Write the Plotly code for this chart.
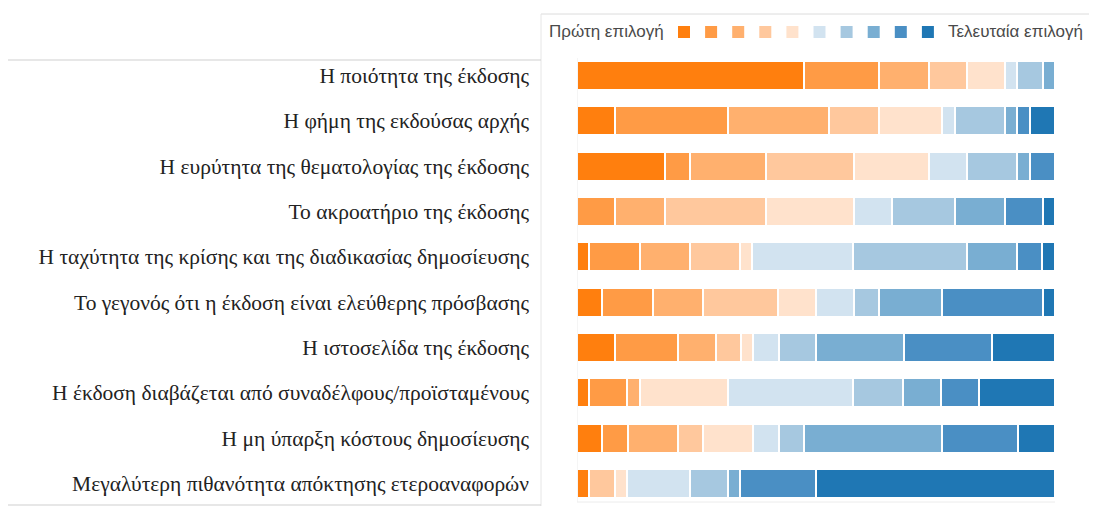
import plotly.graph_objects as go

categories = [
    "Η ποιότητα της έκδοσης",
    "Η φήμη της εκδούσας αρχής",
    "Η ευρύτητα της θεματολογίας της έκδοσης",
    "Το ακροατήριο της έκδοσης",
    "Η ταχύτητα της κρίσης και της διαδικασίας δημοσίευσης",
    "Το γεγονός ότι η έκδοση είναι ελεύθερης πρόσβασης",
    "Η ιστοσελίδα της έκδοσης",
    "Η έκδοση διαβάζεται από συναδέλφους/προϊσταμένους",
    "Η μη ύπαρξη κόστους δημοσίευσης",
    "Μεγαλύτερη πιθανότητα απόκτησης ετεροαναφορών",
]

# percentage of respondents choosing each rank (1 = first choice ... 10 = last choice), per category
rank1 = [47.4, 7.9, 18.4, 0.0, 2.6, 5.3, 7.9, 2.6, 5.3, 2.6]
rank2 = [15.8, 23.7, 5.3, 7.9, 10.5, 10.5, 13.2, 7.9, 5.3, 0.0]
rank3 = [10.5, 21.1, 15.8, 10.5, 10.5, 10.5, 7.9, 2.6, 10.5, 0.0]
rank4 = [7.9, 10.5, 18.4, 21.1, 10.5, 15.8, 5.3, 0.0, 5.3, 5.3]
rank5 = [7.9, 13.2, 15.8, 18.4, 2.6, 7.9, 2.6, 18.4, 10.5, 2.6]
rank6 = [2.6, 2.6, 7.9, 7.9, 21.1, 7.9, 5.3, 26.3, 5.3, 13.2]
rank7 = [5.3, 10.5, 10.5, 13.2, 23.7, 5.3, 7.9, 10.5, 5.3, 7.9]
rank8 = [2.6, 2.6, 2.6, 10.5, 10.5, 13.2, 18.4, 7.9, 28.9, 2.6]
rank9 = [0.0, 2.6, 5.3, 7.9, 5.3, 21.1, 18.4, 7.9, 15.8, 15.8]
rank10 = [0.0, 5.3, 0.0, 2.6, 2.6, 2.6, 13.2, 15.8, 7.9, 50.0]

ranks = [rank1, rank2, rank3, rank4, rank5, rank6, rank7, rank8, rank9, rank10]
rank_names = [str(i) for i in range(1, 11)]
colors = ["#ff7f0e", "#ff9b45", "#ffb06e", "#ffc89d", "#ffe2cc",
          "#d2e3f0", "#a6c8e0", "#79aed2", "#4a8fc4", "#1f77b4"]

legend_first = "Πρώτη επιλογή"
legend_last = "Τελευταία επιλογή"

fig = go.Figure()
for name, vals, col in zip(rank_names, ranks, colors):
    fig.add_trace(go.Bar(
        y=categories, x=vals, orientation="h", name=name,
        marker=dict(color=col, line=dict(color="white", width=2)),
        showlegend=False,
    ))

# page has an 8px body margin: work in screenshot pixels and shift by OFF
OFF = 8
W, H = 1097 - OFF, 507 - OFF
L, R, T, B = 577 - OFF, 42, 53 - OFF, 1
fig.update_layout(
    width=W, height=H,
    barmode="stack", bargap=0.36,
    margin=dict(l=L, r=R, t=T, b=B),
    plot_bgcolor="white", paper_bgcolor="white",
    font=dict(family="Liberation Serif", size=21.5, color="#222"),
)
fig.update_xaxes(range=[0, 100], visible=False, fixedrange=True)
fig.update_yaxes(
    autorange="reversed", showgrid=False, zeroline=False, showline=False,
    ticks="", ticklabelstandoff=47, automargin=False,
    tickfont=dict(family="Liberation Serif", size=21.5, color="#222"),
    fixedrange=True,
)

def px(x):
    return (x - OFF - L) / (W - L - R)

def py(y):
    return (H - B - (y - OFF)) / (H - T - B)

line_col = "#cfcfcf"
shapes = [
    dict(type="line", xref="paper", yref="paper", x0=px(541), x1=px(1095), y0=py(14), y1=py(14), line=dict(color="#dcdcdc", width=1)),
    dict(type="line", xref="paper", yref="paper", x0=px(541), x1=px(541), y0=py(14), y1=py(506), line=dict(color="#e6e6e6", width=1)),
    dict(type="line", xref="paper", yref="paper", x0=px(8), x1=px(541), y0=py(60), y1=py(60), line=dict(color=line_col, width=1)),
    dict(type="line", xref="paper", yref="paper", x0=px(8), x1=px(541), y0=py(505), y1=py(505), line=dict(color=line_col, width=1)),
    dict(type="line", xref="x", yref="paper", x0=0, x1=0, y0=py(502), y1=py(58), line=dict(color="#ececec", width=1)),
    dict(type="line", xref="paper", yref="paper", x0=px(577), x1=px(1055), y0=py(502), y1=py(502), line=dict(color="#ececec", width=1)),
]
sq = 12
for i, col in enumerate(colors):
    cx = 684 + i * 27.1
    shapes.append(dict(type="rect", xref="paper", yref="paper",
                       x0=px(cx - sq / 2), x1=px(cx + sq / 2),
                       y0=py(32 + sq / 2), y1=py(32 - sq / 2),
                       fillcolor=col, line=dict(width=0)))
fig.update_layout(shapes=shapes)

fig.add_annotation(xref="paper", yref="paper", x=px(547), y=py(32), xanchor="left", yanchor="middle",
                   text=legend_first, showarrow=False,
                   font=dict(family="Liberation Sans", size=17, color="#4a4a4a"))
fig.add_annotation(xref="paper", yref="paper", x=px(946), y=py(32), xanchor="left", yanchor="middle",
                   text=legend_last, showarrow=False,
                   font=dict(family="Liberation Sans", size=17, color="#4a4a4a"))

fig.write_html("out.html")
